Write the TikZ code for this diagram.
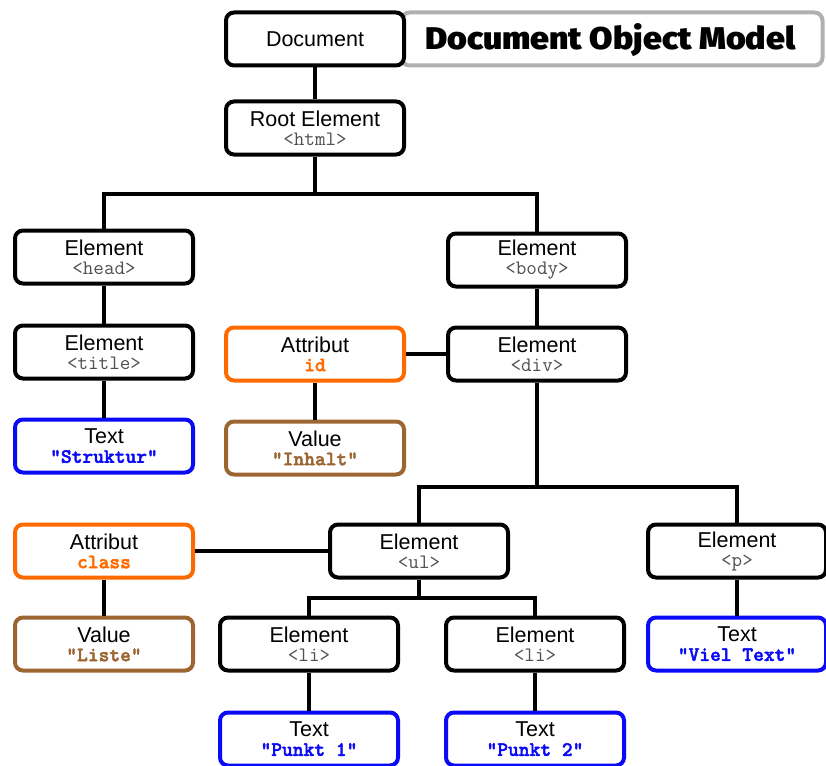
\documentclass[tikz,border=0pt]{standalone}
\usepackage{fontspec}
\usepackage{graphicx}
\setmainfont{Liberation Sans}
\newfontfamily\titlefont{Fira Sans}[UprightFont={* Black}]
\newfontfamily\valfont{lmmonolt10-bold.otf}[FakeBold=2]
\definecolor{orng}{HTML}{FF6A00}
\definecolor{brwn}{HTML}{9C6633}
\definecolor{blu}{HTML}{0A0AF5}
\definecolor{tagc}{HTML}{505050}
\definecolor{bang}{HTML}{B0B0B0}
\newcommand\tg[1]{{\fontsize{20.5}{19}\selectfont\ttfamily\color{tagc}#1}}
\newcommand\vl[2]{{\fontsize{20.5}{19}\selectfont\valfont\color{#1}#2}}
\tikzset{
  box/.style={draw=black, line width=4pt, rounded corners=8pt, minimum width=178pt,
    minimum height=53pt, inner sep=0pt, fill=white, align=center,
    font=\fontsize{21.5}{19}\selectfont},
  attr/.style={box, draw=orng},
  valbox/.style={box, draw=brwn},
  txtbox/.style={box, draw=blu},
  conn/.style={draw=black, line width=4pt},
  banner/.style={draw=bang, line width=4pt, rounded corners=8pt, minimum width=421pt,
    minimum height=53pt, inner sep=0pt, fill=white}
}
\begin{document}
\begin{tikzpicture}[x=1pt,y=-1pt]
\useasboundingbox (0,0) rectangle (826,765);
% banner
\node[banner] (ban) at (612,39) {};
\node[anchor=base west, inner sep=0pt] (title) at (425,50)
  {\resizebox{370pt}{26pt}{\titlefont Document Object Model}};
% nodes
\node[box] (doc) at (315,39) {Document};
\node[box] (root) at (315,128) {Root Element\\\tg{<html>}};
\node[box] (head) at (104,257) {Element\\\tg{<head>}};
\node[box] (body) at (537,260) {Element\\\tg{<body>}};
\node[box] (title2) at (104,352) {Element\\\tg{<title>}};
\node[txtbox] (tstr) at (104,446) {Text\\\vl{blu}{"Struktur"}};
\node[attr] (aid) at (315,354) {Attribut\\\vl{orng}{id}};
\node[box] (div) at (537,354) {Element\\\tg{<div>}};
\node[valbox] (vinh) at (315,448) {Value\\\vl{brwn}{"Inhalt"}};
\node[attr] (acls) at (104,551) {Attribut\\\vl{orng}{class}};
\node[box] (ul) at (419,551) {Element\\\tg{<ul>}};
\node[box] (p) at (737,551) {Element\\\tg{<p>}};
\node[valbox] (vlst) at (104,644) {Value\\\vl{brwn}{"Liste"}};
\node[box] (li1) at (309,644) {Element\\\tg{<li>}};
\node[box] (li2) at (535,644) {Element\\\tg{<li>}};
\node[txtbox] (tviel) at (737,644) {Text\\\vl{blu}{"Viel Text"}};
\node[txtbox] (tp1) at (309,739) {Text\\\vl{blu}{"Punkt 1"}};
\node[txtbox] (tp2) at (535,739) {Text\\\vl{blu}{"Punkt 2"}};
% connectors
\draw[conn] (doc) -- (root);
\draw[conn] (root.south) -- (root.south |- 0,194);
\draw[conn] (head.north) |- (body.north |- 0,194) -- (body.north);
\draw[conn] (head) -- (title2);
\draw[conn] (title2) -- (tstr);
\draw[conn] (body) -- (div);
\draw[conn] (aid) -- (div);
\draw[conn] (aid) -- (vinh);
\draw[conn] (div.south) -- (div.south |- 0,487);
\draw[conn] (ul.north) |- (p.north |- 0,487) -- (p.north);
\draw[conn] (acls) -- (ul);
\draw[conn] (acls) -- (vlst);
\draw[conn] (p) -- (tviel);
\draw[conn] (ul.south) -- (ul.south |- 0,598);
\draw[conn] (li1.north) |- (li2.north |- 0,598) -- (li2.north);
\draw[conn] (li1) -- (tp1);
\draw[conn] (li2) -- (tp2);
\end{tikzpicture}
\end{document}
